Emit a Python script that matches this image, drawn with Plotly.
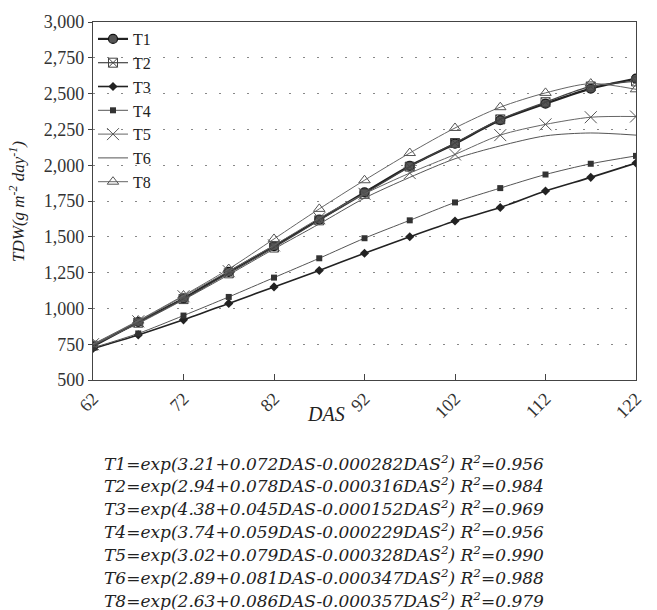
import plotly.graph_objects as go

das = [62, 67, 72, 77, 82, 87, 92, 97, 102, 107, 112, 117, 122]

t1 = [735, 905, 1070, 1255, 1435, 1620, 1810, 1995, 2150, 2315, 2430, 2535, 2605]
t2 = [740, 900, 1065, 1245, 1425, 1615, 1800, 1990, 2155, 2320, 2440, 2550, 2585]
t3 = [720, 815, 920, 1035, 1150, 1265, 1385, 1500, 1610, 1705, 1820, 1915, 2015]
t4 = [725, 825, 950, 1080, 1215, 1350, 1490, 1615, 1740, 1840, 1935, 2010, 2065]
t5 = [750, 910, 1085, 1260, 1440, 1630, 1800, 1945, 2075, 2210, 2285, 2335, 2340]
t6 = [745, 895, 1060, 1235, 1415, 1590, 1770, 1915, 2045, 2135, 2205, 2225, 2210]
t8 = [750, 915, 1090, 1275, 1485, 1695, 1895, 2085, 2260, 2405, 2505, 2570, 2530]

x_ticks = [62, 72, 82, 92, 102, 112, 122]
y_ticks = [500, 750, 1000, 1250, 1500, 1750, 2000, 2250, 2500, 2750, 3000]

equations = [
    "T1=exp(3.21+0.072DAS-0.000282DAS<sup>2</sup>) R<sup>2</sup>=0.956",
    "T2=exp(2.94+0.078DAS-0.000316DAS<sup>2</sup>) R<sup>2</sup>=0.984",
    "T3=exp(4.38+0.045DAS-0.000152DAS<sup>2</sup>) R<sup>2</sup>=0.969",
    "T4=exp(3.74+0.059DAS-0.000229DAS<sup>2</sup>) R<sup>2</sup>=0.956",
    "T5=exp(3.02+0.079DAS-0.000328DAS<sup>2</sup>) R<sup>2</sup>=0.990",
    "T6=exp(2.89+0.081DAS-0.000347DAS<sup>2</sup>) R<sup>2</sup>=0.988",
    "T8=exp(2.63+0.086DAS-0.000357DAS<sup>2</sup>) R<sup>2</sup>=0.979",
]

series = [
    ("T1", t1, dict(symbol="circle", size=9, color="#555", line=dict(color="#111", width=1.2)), dict(color="#222", width=2.2)),
    ("T2", t2, dict(symbol="square-x-open", size=9, color="#444", line=dict(width=1)), dict(color="#444", width=1.2)),
    ("T3", t3, dict(symbol="diamond", size=7, color="#222"), dict(color="#222", width=1.6)),
    ("T4", t4, dict(symbol="square", size=6, color="#333"), dict(color="#555", width=1)),
    ("T5", t5, dict(symbol="x-thin-open", size=12, color="#555", line=dict(width=1)), dict(color="#666", width=1)),
    ("T6", t6, None, dict(color="#555", width=1)),
    ("T8", t8, dict(symbol="triangle-up-open", size=10, color="#555", line=dict(width=1)), dict(color="#666", width=1)),
]

fig = go.Figure()
for name, vals, mk, ln in series:
    kw = dict(x=das, y=vals, name=name, line=dict(shape="spline", smoothing=0.8, **ln))
    if mk is None:
        kw["mode"] = "lines"
    else:
        kw["mode"] = "lines+markers"
        kw["marker"] = mk
    fig.add_trace(go.Scatter(**kw))

serif = "Liberation Serif, DejaVu Serif, serif"
eqfont = "DejaVu Serif, serif"

annotations = [
    dict(text="DAS", x=0.43, y=-0.06, xref="paper", yref="paper", showarrow=False,
         xanchor="center", yanchor="top",
         font=dict(family=serif, size=20, color="#222", style="italic")),
    dict(text="TDW(g m<sup>-2</sup> day<sup>-1</sup>)", x=-0.14, y=0.5, xref="paper", yref="paper",
         showarrow=False, textangle=-90, xanchor="center", yanchor="middle",
         font=dict(family=serif, size=17, color="#222", style="italic")),
]
for i, eq in enumerate(equations):
    py = 463 + i * 23
    annotations.append(dict(
        text=eq, x=0.425, y=(380 - py) / 360, xref="paper", yref="paper", showarrow=False,
        xanchor="center", yanchor="middle",
        font=dict(family=eqfont, size=17, color="#222", style="italic")))

fig.update_layout(
    width=657, height=610,
    margin=dict(l=93, r=15, t=20, b=230),
    paper_bgcolor="white", plot_bgcolor="white",
    font=dict(family=serif, color="#222"),
    showlegend=True,
    legend=dict(x=0.0, y=1.0, xanchor="left", yanchor="top", bgcolor="rgba(0,0,0,0)",
                font=dict(family=serif, size=16, color="#222"), itemwidth=30,
                tracegroupgap=0),
    annotations=annotations,
    xaxis=dict(range=[62, 122], tickvals=x_ticks, ticktext=[str(v) for v in x_ticks],
               tickangle=-45, tickfont=dict(family=serif, size=18, color="#333"),
               showgrid=False, zeroline=False, showline=True, linecolor="#444", linewidth=1.2,
               mirror=True, ticks="inside", ticklen=6, tickcolor="#444"),
    yaxis=dict(range=[500, 3000], tickvals=y_ticks, tickformat=",d",
               tickfont=dict(family=serif, size=18, color="#333"),
               showgrid=True, gridcolor="#888", griddash="2px,12px", gridwidth=1,
               zeroline=False, showline=True, linecolor="#444", linewidth=1.2, mirror=True,
               ticks="outside", ticklen=4, tickcolor="#444"),
)

fig.write_html("out.html")
